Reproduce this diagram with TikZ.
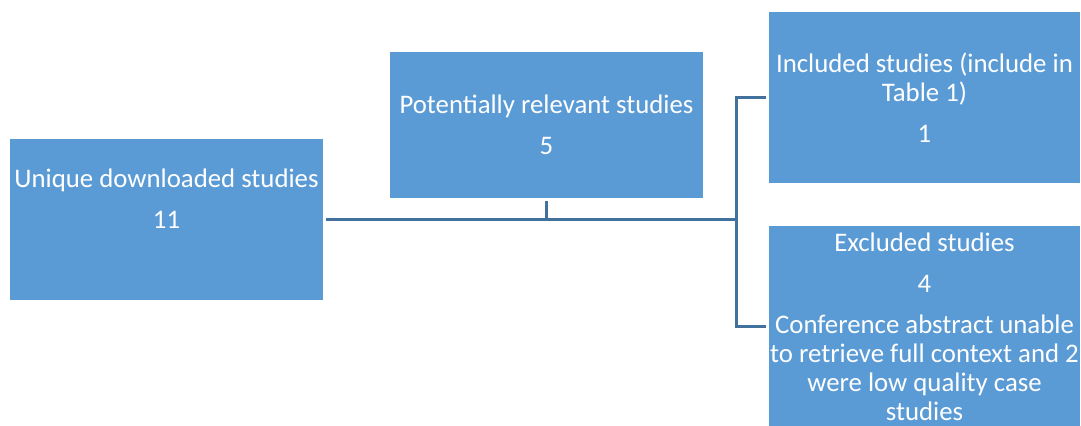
\documentclass[tikz,border=0pt]{standalone}
\usepackage{fontspec}
\setmainfont{Carlito}
\usepackage{tikz}
\definecolor{boxblue}{HTML}{5B9BD5}
\definecolor{lineblue}{HTML}{41719C}

\begin{document}
\begin{tikzpicture}[
    x=0.5pt, y=-0.5pt,
    studybox/.style={rectangle, fill=boxblue, text=white, align=center, inner xsep=0pt, inner ysep=3pt,
        font=\fontsize{13.4}{14.5}\selectfont},
    link/.style={draw=lineblue, line width=1.5pt, shorten <=1.5pt}
]
\useasboundingbox (0,0) rectangle (1081,426);
\clip (0,0) rectangle (1081,426);
\node[studybox, minimum width=156.5pt, minimum height=80.5pt, text depth=21pt](unique) at (166.5,219.5){Unique downloaded studies\\[6pt]11};
\node[studybox, minimum width=156.5pt, minimum height=73pt](relevant) at (546.5,125){Potentially relevant studies\\[6pt]5};
\node[studybox, minimum width=155.5pt, minimum height=85.5pt](included) at (924.5,97.5){Included studies (include in\\Table 1)\\[6pt]1};
\node[studybox, minimum width=155.5pt, minimum height=100pt, anchor=north](excluded) at (924.5,226){Excluded studies\\[6pt]4\\[6pt]Conference abstract unable\\to retrieve full context and 2\\were low quality case\\studies};
\coordinate (split) at (736,219.5);
\draw[link] (unique.east) -- (split);
\draw[link] (relevant.south) -- (relevant.south |- split);
\draw[link, shorten >=1.5pt] (included.west) -| (split) |- (excluded.west);
\end{tikzpicture}
\end{document}
